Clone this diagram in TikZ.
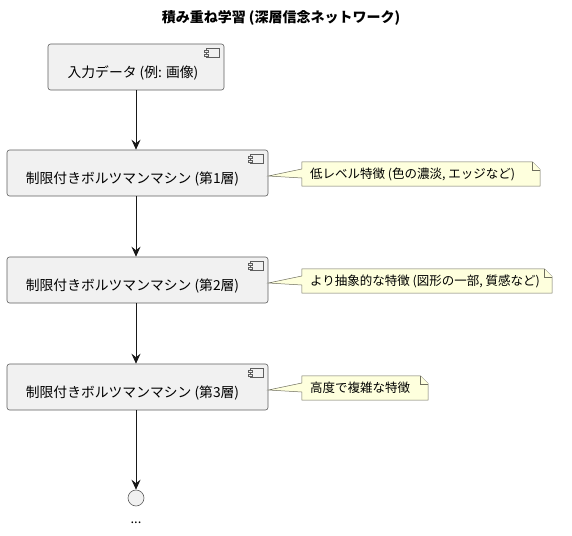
\documentclass[tikz,border=0pt]{standalone}
\usepackage{fontspec}
\setmainfont{Noto Sans CJK JP}
\usetikzlibrary{calc,arrows.meta}
\definecolor{boxfill}{HTML}{F1F1F1}
\definecolor{boxline}{HTML}{5E5E5E}
\definecolor{notefill}{HTML}{FEFFDD}
\definecolor{noteline}{HTML}{6E6E5E}
\begin{document}
\begin{tikzpicture}[x=1pt,y=-1pt,
  box/.style={draw=boxline, line width=0.6pt, fill=boxfill, rounded corners=2.5pt,
    minimum width=#1, minimum height=46pt, inner sep=0pt},
  boxtext/.style={font=\fontsize{13.8}{16}\selectfont, inner sep=0pt},
  notebox/.style={minimum width=#1, minimum height=24pt, inner sep=0pt},
  notetext/.style={font=\fontsize{12.5}{15}\selectfont, inner sep=0pt, anchor=west},
  notedraw/.style={draw=noteline, line width=0.5pt, fill=notefill, line join=miter},
  flow/.style={draw=black!90, line width=0.8pt, -{Stealth[length=10pt,width=9pt,inset=3.5pt]}},
  icon/.style={draw=boxline, line width=0.5pt, fill=boxfill}
]
\useasboundingbox (0,0) rectangle (572,535);

% title
\node[font=\fontsize{14}{16}\selectfont\bfseries, inner sep=0pt] (title) at (281,18) {積み重ね学習 (深層信念ネットワーク)};

% boxes
\node[box=176pt] (b0) at (136,67) {};
\node[box=261pt] (b1) at (137.5,173) {};
\node[box=261pt] (b2) at (137.5,280) {};
\node[box=261pt] (b3) at (137.5,387) {};

\node[boxtext] (t0) at ($(b0.center)+(-3,6)$) {入力データ (例: 画像)};
\node[boxtext] (t1) at ($(b1.center)+(-5,6)$) {制限付きボルツマンマシン (第1層)};
\node[boxtext] (t2) at ($(b2.center)+(-5,6)$) {制限付きボルツマンマシン (第2層)};
\node[boxtext] (t3) at ($(b3.center)+(-5,6)$) {制限付きボルツマンマシン (第3層)};

% component icons
\foreach \b in {b0,b1,b2,b3}{
  \draw[icon] ($(\b.north east)+(-18,5)$) rectangle ($(\b.north east)+(-5,14)$);
  \draw[icon] ($(\b.north east)+(-20,7)$) rectangle ($(\b.north east)+(-16,9)$);
  \draw[icon] ($(\b.north east)+(-20,10.5)$) rectangle ($(\b.north east)+(-16,12.5)$);
}

% end circle
\node[circle, draw=boxline, line width=0.6pt, fill=boxfill, minimum size=16pt, inner sep=0pt] (end) at (136,498) {};
\node[font=\fontsize{13}{15}\selectfont, inner sep=0pt] (dots) at (136,523) {...};

% flows
\draw[flow] (b0.south) -- (b0.south |- b1.north);
\draw[flow] (b0.south |- b1.south) -- (b0.south |- b2.north);
\draw[flow] (b0.south |- b2.south) -- (b0.south |- b3.north);
\draw[flow] (b0.south |- b3.south) -- (end.north);

% notes
\node[notebox=238pt] (n1) at (421,174) {};
\node[notebox=250pt] (n2) at (427,281) {};
\node[notebox=126pt] (n3) at (365,388) {};

\foreach \n/\b in {n1/b1,n2/b2,n3/b3}{
  \coordinate (\n apex) at ($(\b.east)+(0,3)$);
  \draw[notedraw] (\n.north west) -- ($(\n.north east)+(-8,0)$) -- ($(\n.north east)+(0,8)$)
     -- (\n.south east) -- (\n.south west) -- ($(\n.west)+(0,4)$) -- (\n apex)
     -- ($(\n.west)+(0,-5)$) -- cycle;
  \draw[notedraw] ($(\n.north east)+(-8,0)$) -- ($(\n.north east)+(-8,8)$) -- ($(\n.north east)+(0,8)$);
}

\node[notetext] (nt1) at ($(n1.west)+(8,0)$) {低レベル特徴 (色の濃淡, エッジなど)};
\node[notetext] (nt2) at ($(n2.west)+(8,0)$) {より抽象的な特徴 (図形の一部, 質感など)};
\node[notetext] (nt3) at ($(n3.west)+(8,0)$) {高度で複雑な特徴};
\end{tikzpicture}
\end{document}
